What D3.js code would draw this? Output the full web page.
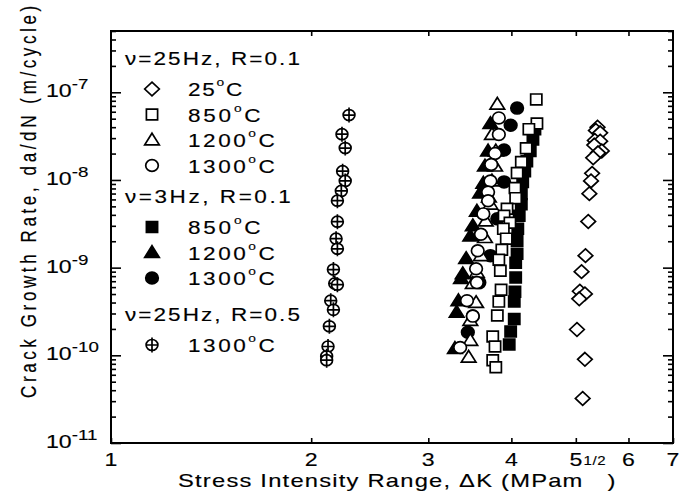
<!DOCTYPE html>
<html>
<head>
<meta charset="utf-8">
<script src="https://cdn.jsdelivr.net/npm/d3@7"></script>
<style>
  body { margin: 0; background: #fff; }
  svg { display: block; font-family: "Liberation Sans", Arial, sans-serif; }
  text { stroke: #000; stroke-width: 0.15px; }
</style>
</head>
<body>
<svg id="chart" width="691" height="502"></svg>
<script>
// axis ranges and tick labels
const xDomain = [1, 7];
const yDomain = [1e-11, 5e-7];
const xTickLabels = [1, 2, 3, 4, 5, 6, 7];
const yDecades = [-11, -10, -9, -8, -7];
const legendHeaders = ["ν=25Hz, R=0.1", "ν=3Hz, R=0.1", "ν=25Hz, R=0.5"];

// [dK (MPam^1/2), da/dN (m/cycle)]
const f25R01_25C = [
  [5.39, 4.0e-8], [5.36, 3.67e-8], [5.44, 3.45e-8], [5.34, 2.82e-8], [5.44, 2.77e-8],
  [5.33, 2.5e-8], [5.47, 2.14e-8], [5.40, 2.04e-8], [5.31, 1.79e-8], [5.29, 1.19e-8],
  [5.27, 9.75e-9], [5.24, 6.98e-9], [5.22, 3.36e-9], [5.17, 1.37e-9], [5.10, 9.0e-10],
  [5.07, 5.38e-10], [5.16, 5.02e-10], [5.06, 4.41e-10], [5.02, 1.97e-10], [5.16, 9.0e-11],
  [5.12, 3.22e-11]
];
const f25R01_850C = [
  [4.36, 8.3e-8], [4.37, 4.4e-8], [4.25, 3.8e-8], [4.21, 2.3e-8], [4.14, 1.6e-8],
  [4.08, 1.2e-8], [4.05, 8.1e-9], [4.06, 6.2e-9], [3.94, 4.7e-9], [3.90, 3.9e-9],
  [3.98, 3.25e-9], [3.89, 2.77e-9], [3.93, 2.14e-9], [3.87, 1.6e-9], [3.83, 1.23e-9],
  [3.85, 9.2e-10], [3.86, 5.6e-10], [3.83, 4.1e-10], [3.81, 2.85e-10], [3.75, 1.64e-10],
  [3.78, 1.26e-10], [3.75, 8.8e-11], [3.79, 7.3e-11]
];
const f25R01_1200C = [
  [3.81, 7.3e-8], [3.74, 3.3e-8], [3.79, 2.14e-8], [3.78, 1.44e-8], [3.74, 9.75e-9],
  [3.70, 6.4e-9], [3.72, 5.3e-9], [3.66, 3.4e-9], [3.65, 2.2e-9], [3.60, 1.37e-9],
  [3.55, 8.8e-10], [3.50, 6.6e-10], [3.54, 4.0e-10], [3.47, 2.5e-10], [3.47, 1.48e-10],
  [3.45, 9.5e-11]
];
const f25R01_1300C = [
  [3.83, 5.1e-8], [3.83, 3.3e-8], [3.78, 2.0e-8], [3.73, 1.5e-8], [3.72, 9.75e-9],
  [3.69, 7.3e-9], [3.69, 5.8e-9], [3.63, 4.1e-9], [3.60, 2.4e-9], [3.56, 1.56e-9],
  [3.54, 9.7e-10], [3.55, 6.75e-10], [3.43, 4.2e-10], [3.50, 2.8e-10], [3.35, 1.23e-10]
];
const f3R01_850C = [
  [4.34, 3.8e-8], [4.31, 2.9e-8], [4.27, 2.14e-8], [4.22, 1.64e-8], [4.19, 1.26e-8],
  [4.16, 9.5e-9], [4.14, 6.9e-9], [4.14, 5.3e-9], [4.11, 3.9e-9], [4.09, 2.77e-9],
  [4.08, 2.03e-9], [4.08, 1.44e-9], [4.06, 1.14e-9], [4.06, 7.7e-10], [4.05, 5.3e-10],
  [4.04, 4.1e-10], [4.04, 2.6e-10], [3.99, 1.87e-10], [3.97, 1.33e-10]
];
const f3R01_1200C = [
  [3.72, 4.4e-8], [3.69, 2.14e-8], [3.65, 1.44e-8], [3.63, 9.2e-9], [3.59, 7.1e-9],
  [3.55, 4.4e-9], [3.50, 3.0e-9], [3.47, 2.3e-9], [3.42, 1.27e-9], [3.38, 8.5e-10],
  [3.36, 7.5e-10], [3.33, 4.2e-10], [3.31, 3.1e-10], [3.29, 1.2e-10]
];
const f3R01_1300C = [
  [4.08, 6.6e-8], [3.99, 4.2e-8], [3.90, 2.2e-8], [3.90, 9.5e-9], [3.81, 3.6e-9],
  [3.72, 1.37e-9], [3.58, 6.75e-10], [3.50, 2.8e-10], [3.44, 1.83e-10]
];
const f25R05_1300C = [
  [2.28, 5.5e-8], [2.225, 3.33e-8], [2.25, 2.31e-8], [2.23, 1.26e-8], [2.25, 9.75e-9],
  [2.22, 7.5e-9], [2.19, 5.8e-9], [2.19, 3.34e-9], [2.18, 2.14e-9], [2.19, 1.64e-9],
  [2.16, 9.5e-10], [2.17, 6.6e-10], [2.19, 6.4e-10], [2.14, 4.2e-10], [2.16, 3.3e-10],
  [2.13, 2.14e-10], [2.12, 1.26e-10], [2.11, 9.75e-11], [2.11, 8.8e-11]
];

const series = [
  { group: 0, temp: "25",   shape: "diamond",  filled: false, data: f25R01_25C },
  { group: 0, temp: "850",  shape: "square",   filled: false, data: f25R01_850C },
  { group: 0, temp: "1200", shape: "triangle", filled: false, data: f25R01_1200C },
  { group: 0, temp: "1300", shape: "circle",   filled: false, data: f25R01_1300C },
  { group: 1, temp: "850",  shape: "square",   filled: true,  data: f3R01_850C },
  { group: 1, temp: "1200", shape: "triangle", filled: true,  data: f3R01_1200C },
  { group: 1, temp: "1300", shape: "circle",   filled: true,  data: f3R01_1300C },
  { group: 2, temp: "1300", shape: "cross",    filled: false, data: f25R05_1300C }
];

const shapes = {
  diamond: "M0,-6.8L7.3,0L0,6.8L-7.3,0Z",
  square: "M-5.6,-5.4H5.6V5.4H-5.6Z",
  triangle: "M0,-6.8L7.3,4.9H-7.3Z",
  circle: "M6.3,0A6.3,5.9 0 1,1 -6.3,0A6.3,5.9 0 1,1 6.3,0Z",
  cross: "M5.9,0A5.9,5.5 0 1,1 -5.9,0A5.9,5.5 0 1,1 5.9,0ZM0,-7.5V7.5M-5.9,0H5.9"
};

const margin = { left: 111, right: 673, top: 31, bottom: 443 };
const SX = 1.25; // the original lettering is drawn a little wide
const svg = d3.select("#chart");

const x = d3.scaleLog().domain(xDomain).range([margin.left, margin.right]);
const y = d3.scaleLog().domain(yDomain).range([margin.bottom, margin.top]);

// text placed in a horizontally widened group
function wideText(parent, px, py, size, anchor) {
  return parent.append("g")
    .attr("transform", `translate(${px},${py}) scale(${SX},1)`)
    .append("text")
    .attr("text-anchor", anchor || "start")
    .attr("fill", "#000")
    .style("font-size", size + "px");
}

// spread letters so the text covers a measured width (screen px)
function fitText(sel, target, scale) {
  sel.style("letter-spacing", "0px");
  const w = sel.node().getBBox().width * scale;
  const n = sel.text().length;
  sel.style("letter-spacing", ((target - w) / scale / (n - 0.5)) + "px");
}

// ticks
const majorY = yDecades.map(e => Math.pow(10, e));
const minorY = [];
yDecades.forEach(e => {
  for (let k = 2; k <= 9; k++) {
    const v = k * Math.pow(10, e);
    if (v <= yDomain[1] * 1.0001) minorY.push(v);
  }
});

function styleAxis(g) {
  g.select(".domain").remove();
  g.selectAll(".tick line").attr("stroke", "#000").attr("stroke-width", 1.6);
}

svg.append("g").attr("transform", `translate(${margin.left},0)`)
  .call(d3.axisLeft(y).tickValues(minorY).tickSize(-5).tickFormat(""))
  .call(styleAxis);
svg.append("g").attr("transform", `translate(${margin.left},0)`)
  .call(d3.axisLeft(y).tickValues(majorY).tickSize(-10).tickFormat(""))
  .call(styleAxis);
svg.append("g").attr("transform", `translate(${margin.right},0)`)
  .call(d3.axisRight(y).tickValues(minorY).tickSize(-5).tickFormat(""))
  .call(styleAxis);
svg.append("g").attr("transform", `translate(${margin.right},0)`)
  .call(d3.axisRight(y).tickValues(majorY).tickSize(-10).tickFormat(""))
  .call(styleAxis);
svg.append("g").attr("transform", `translate(0,${margin.top})`)
  .call(d3.axisTop(x).tickValues(xTickLabels.slice(1, -1)).tickSize(-5).tickFormat(""))
  .call(styleAxis);
svg.append("g").attr("transform", `translate(0,${margin.bottom})`)
  .call(d3.axisBottom(x).tickValues(xTickLabels).tickSize(-5).tickFormat(""))
  .call(styleAxis);

// x tick labels
xTickLabels.forEach(v => {
  wideText(svg, x(v), 466, 18.5, "middle").text(v);
});

// y tick labels 10^n
majorY.forEach(v => {
  const t = wideText(svg, 46, y(v) + 5, 18.5, "start");
  t.append("tspan").text("10");
  t.append("tspan").attr("dy", -8).style("font-size", "15px")
    .text(String(Math.round(Math.log10(v))));
});

// frame
svg.append("rect")
  .attr("x", margin.left).attr("y", margin.top)
  .attr("width", margin.right - margin.left).attr("height", margin.bottom - margin.top)
  .attr("fill", "none").attr("stroke", "#000").attr("stroke-width", 2);

// points: filled series first, open ones on top
const drawOrder = [4, 5, 6, 1, 2, 3, 0, 7];
drawOrder.forEach(i => {
  const s = series[i];
  svg.append("g").selectAll("path")
    .data(s.data)
    .join("path")
    .attr("transform", d => `translate(${x(d[0])},${y(d[1])})`)
    .attr("d", shapes[s.shape])
    .attr("fill", s.filled ? "#000" : "#fff")
    .attr("stroke", "#000")
    .attr("stroke-width", 1.7);
});

// legend
const legend = svg.append("g");
const headerY = [65, 203, 321];
const headerW = [176, 167, 176];
const labelW = { "25": 55, "850": 74, "1200": 88, "1300": 88 };
legendHeaders.forEach((h, gi) => {
  const t = wideText(legend, 125, headerY[gi], 18).text(h);
  fitText(t, headerW[gi], SX);
  series.filter(s => s.group === gi).forEach((s, j) => {
    const base = headerY[gi] + 31 + j * 25.5;
    legend.append("path")
      .attr("transform", `translate(152,${base - 7})`)
      .attr("d", shapes[s.shape])
      .attr("fill", s.filled ? "#000" : "#fff")
      .attr("stroke", "#000").attr("stroke-width", 1.7);
    const lt = wideText(legend, 188, base, 18);
    lt.append("tspan").text(s.temp);
    lt.append("tspan").attr("dy", -10).style("font-size", "11px").text("o");
    lt.append("tspan").attr("dy", 10).text("C");
    fitText(lt, labelW[s.temp], SX);
  });
});

// axis titles
const xt = wideText(svg, 178, 487, 19);
xt.append("tspan").text("Stress Intensity Range, ΔK (MPam");
fitText(xt, 405, SX);
xt.append("tspan").attr("dy", -22).style("font-size", "12px").style("letter-spacing", "0.5px").text("1/2");
xt.append("tspan").attr("dy", 22).attr("dx", 1).style("letter-spacing", "0px").text(")");

const yt = svg.append("g").attr("transform", `translate(36,398) scale(${SX},1) rotate(-90)`)
  .append("text").attr("fill", "#000").style("font-size", "17px")
  .text("Crack Growth Rate, da/dN (m/cycle)");
fitText(yt, 394, 1);
</script>
</body>
</html>
